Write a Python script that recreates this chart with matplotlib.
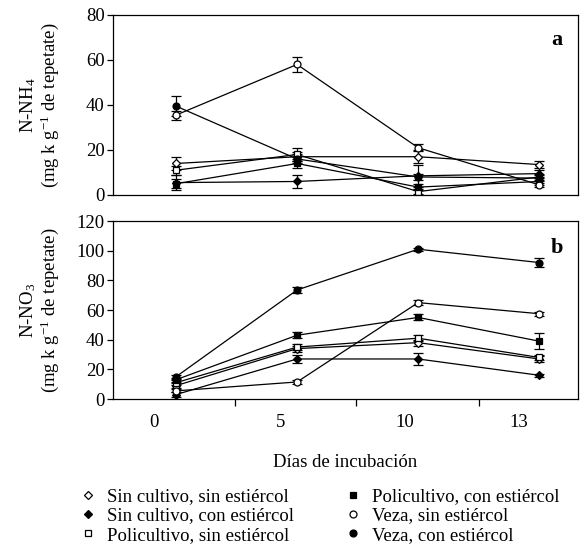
import numpy as np
import matplotlib
matplotlib.use("Agg")
import matplotlib.pyplot as plt
from matplotlib.lines import Line2D

plt.rcParams['font.family'] = ['Liberation Serif', 'DejaVu Serif']
plt.rcParams['mathtext.fontset'] = 'custom'
plt.rcParams['mathtext.rm'] = 'Liberation Serif'
plt.rcParams['mathtext.it'] = 'Liberation Serif:italic'

days = ['0', '5', '10', '13']
series = ['Sin cultivo, sin estiércol', 'Sin cultivo, con estiércol',
          'Policultivo, sin estiércol', 'Policultivo, con estiércol',
          'Veza, sin estiércol', 'Veza, con estiércol']

# N-NH4 (panel a)
nh4 = [[14, 17, 17, 13.5],
       [5.5, 6, 8.5, 9.5],
       [11, 18, 1.5, 8],
       [5, 14, 3.5, 6],
       [35.5, 58, 21, 4.5],
       [39.5, 16, 8, 7.5]]
nh4_err = [[3, 2, 3, 1.5],
           [3.5, 3, 5, 1.5],
           [2, 3, 1, 1.5],
           [2, 2, 1.5, 1.5],
           [2, 3.5, 1.5, 1],
           [4.5, 2, 1.5, 1.5]]

# N-NO3 (panel b)
no3 = [[9, 34, 38, 27],
       [3, 27, 27, 16],
       [11, 35, 41, 28],
       [13, 43, 55, 39],
       [5.5, 11.5, 65, 57.5],
       [15, 73.5, 101, 92]]
no3_err = [[1.5, 2, 2, 2],
           [1.5, 3, 4, 1],
           [1.5, 2, 2, 2],
           [1.5, 2, 2, 5.5],
           [1, 1.5, 1.5, 1.5],
           [1.5, 2, 1, 3]]

markers = [('D', 'white'), ('D', 'black'), ('s', 'white'),
           ('s', 'black'), ('o', 'white'), ('o', 'black')]

fs = 13.5

fig = plt.figure(figsize=(5.84, 5.46), dpi=100)
ax1 = fig.add_axes([0.1935, 0.6429, 0.7962, 0.3297])
ax2 = fig.add_axes([0.1935, 0.2692, 0.7962, 0.3260])

x = np.arange(len(days))


def draw(ax, data, err):
    for vals, e, (m, fc) in zip(data, err, markers):
        ax.errorbar(x, vals, yerr=e, color='black', lw=0.9, marker=m,
                    markersize=5 if m != 'D' else 4.5, markerfacecolor=fc,
                    markeredgecolor='black', markeredgewidth=0.9,
                    ecolor='black', elinewidth=0.9, capsize=3.5, capthick=0.9)
    ax.set_xlim(-0.52, 3.32)
    for s in ax.spines.values():
        s.set_linewidth(0.9)
    ax.tick_params(axis='y', direction='out', length=4, width=0.9,
                   labelsize=fs, pad=2)


draw(ax1, nh4, nh4_err)
draw(ax2, no3, no3_err)

ax1.set_ylim(0, 80)
ax1.set_yticks([0, 20, 40, 60, 80])
ax1.set_xticks([])
ax2.set_ylim(0, 120)
ax2.set_yticks(np.arange(0, 121, 20))
ax2.set_xticks([0.49, 1.49, 2.5])
ax2.set_xticklabels([])
ax2.tick_params(axis='x', direction='out', length=5, width=0.9)
ax2.set_xticks([-0.18, 0.86, 1.89, 2.83], minor=True)
ax2.set_xticklabels(days, minor=True)
ax2.tick_params(axis='x', which='minor', length=0, labelsize=fs, pad=11)
ax2.set_xlabel('Días de incubación', fontsize=fs, labelpad=16)

ax1.set_ylabel('N-NH$_4$\n(mg k g$^{\\mathregular{-1}}$ de tepetate)',
               fontsize=fs, linespacing=1.0)
ax2.set_ylabel('N-NO$_3$\n(mg k g$^{\\mathregular{-1}}$ de tepetate)',
               fontsize=fs, linespacing=1.0)
ax1.yaxis.set_label_coords(-0.112, 0.5)
ax2.yaxis.set_label_coords(-0.112, 0.5)

ax1.text(0.955, 0.86, 'a', transform=ax1.transAxes, fontsize=16,
         fontweight='bold', ha='center', va='center')
ax2.text(0.955, 0.85, 'b', transform=ax2.transAxes, fontsize=16,
         fontweight='bold', ha='center', va='center')

handles = [Line2D([], [], linestyle='none', marker=m, markersize=4.5 if m == 'D' else 5,
                  markerfacecolor=fc, markeredgecolor='black', markeredgewidth=0.9)
           for m, fc in markers]
fig.legend(handles, series, ncol=2, loc='upper left',
           bbox_to_anchor=(0.122, 0.12), frameon=False,
           fontsize=fs, handlelength=1.0, handletextpad=0.5,
           columnspacing=2.65, labelspacing=0.12, borderaxespad=0)

fig.savefig('out.png', dpi=100)
